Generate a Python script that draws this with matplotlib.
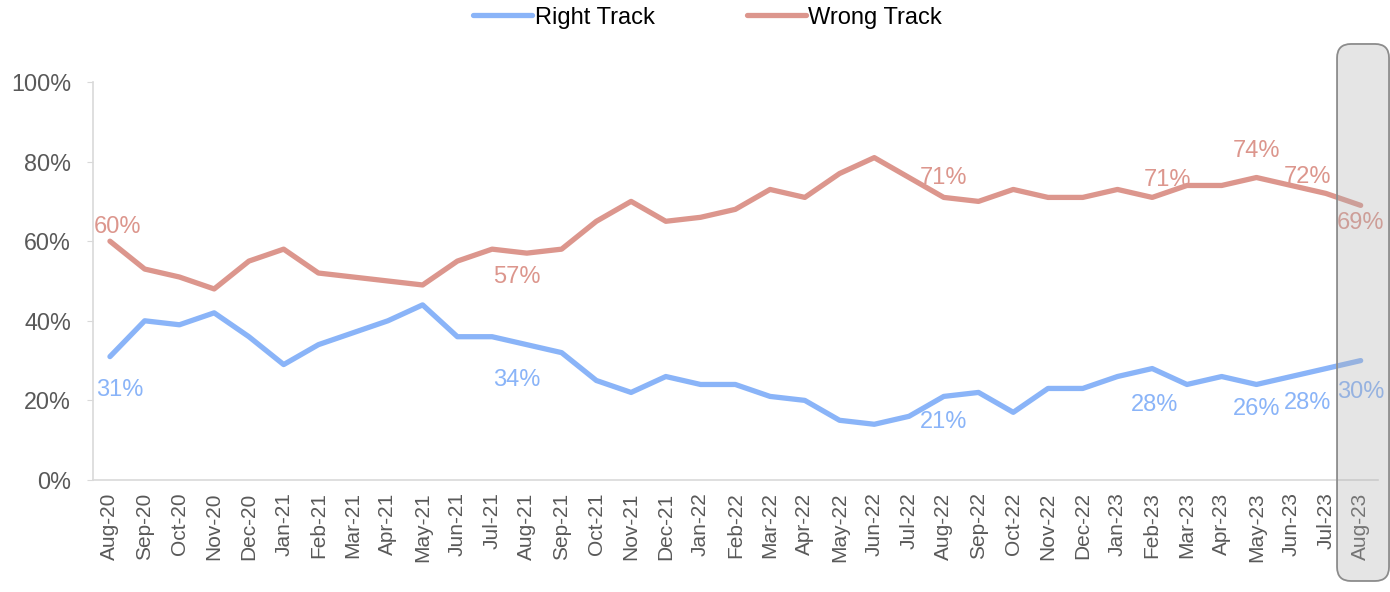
import matplotlib
matplotlib.use("Agg")
import matplotlib.pyplot as plt
from matplotlib.patches import FancyBboxPatch
import numpy as np

plt.rcParams['font.family'] = ['Liberation Sans', 'DejaVu Sans']

# data
months = ['Aug-20', 'Sep-20', 'Oct-20', 'Nov-20', 'Dec-20', 'Jan-21', 'Feb-21', 'Mar-21',
          'Apr-21', 'May-21', 'Jun-21', 'Jul-21', 'Aug-21', 'Sep-21', 'Oct-21', 'Nov-21',
          'Dec-21', 'Jan-22', 'Feb-22', 'Mar-22', 'Apr-22', 'May-22', 'Jun-22', 'Jul-22',
          'Aug-22', 'Sep-22', 'Oct-22', 'Nov-22', 'Dec-22', 'Jan-23', 'Feb-23', 'Mar-23',
          'Apr-23', 'May-23', 'Jun-23', 'Jul-23', 'Aug-23']
right_track = [31, 40, 39, 42, 36, 29, 34, 37, 40, 44, 36, 36, 34, 32, 25, 22, 26, 24, 24,
               21, 20, 15, 14, 16, 21, 22, 17, 23, 23, 26, 28, 24, 26, 24, 26, 28, 30]
wrong_track = [60, 53, 51, 48, 55, 58, 52, 51, 50, 49, 55, 58, 57, 58, 65, 70, 65, 66, 68,
               73, 71, 77, 81, 76, 71, 70, 73, 71, 71, 73, 71, 74, 74, 76, 74, 72, 69]

# data labels: (month index, text)
right_labels = [(0, '31%'), (12, '34%'), (24, '21%'), (30, '28%'), (33, '26%'), (35, '28%'), (36, '30%')]
wrong_labels = [(0, '60%'), (12, '57%'), (24, '71%'), (30, '71%'), (33, '74%'), (35, '72%'), (36, '69%')]

# label offsets in pixels (dx, dy of baseline)
right_offs = [(10, -39), (-10, -41), (0, -32), (2, -42), (0, -31), (-18, -40), (0, -37)]
wrong_offs = [(8, 8), (-10, -30), (0, 13), (15, 11), (0, 21), (-18, 10), (0, -24)]

c_right = '#8ab4f8'
c_wrong = '#dc968d'
grey_txt = '#595959'

fig = plt.figure(figsize=(13.9, 5.92), dpi=100)
ax = fig.add_axes([0.0666, 0.1892, 0.9248, 0.6723])

x = np.arange(len(months))
ax.plot(x, np.array(right_track) / 100., color=c_right, lw=3.8, label='Right Track', solid_capstyle='round')
ax.plot(x, np.array(wrong_track) / 100., color=c_wrong, lw=3.8, label='Wrong Track', solid_capstyle='round')

for (i, t), (dx, dy) in zip(right_labels, right_offs):
    ax.annotate(t, (i, right_track[i] / 100.), xytext=(dx, dy), textcoords='offset pixels',
                ha='center', va='baseline', color=c_right, fontsize=17)
for (i, t), (dx, dy) in zip(wrong_labels, wrong_offs):
    ax.annotate(t, (i, wrong_track[i] / 100.), xytext=(dx, dy), textcoords='offset pixels',
                ha='center', va='baseline', color=c_wrong, fontsize=17)

ax.set_xlim(-0.5, len(months) - 0.5)
ax.set_ylim(0, 1.0)
ax.set_yticks(np.arange(0, 1.01, 0.2))
ax.set_yticklabels(['%d%%' % v for v in range(0, 101, 20)])
ax.set_xticks(x)
ax.set_xticklabels(months, rotation=90)

for s in ['top', 'right']:
    ax.spines[s].set_visible(False)
for s in ['left', 'bottom']:
    ax.spines[s].set_color('#d9d9d9')
    ax.spines[s].set_linewidth(1.2)
ax.tick_params(axis='y', colors='#d9d9d9', labelcolor=grey_txt, labelsize=16.8, length=4.5, pad=11)
ax.tick_params(axis='x', length=0, labelcolor=grey_txt, labelsize=15, pad=9)

fig.legend(loc='center', bbox_to_anchor=(0.509, 0.97), ncol=2, frameon=False, fontsize=17,
           handlelength=2.5, handletextpad=0.1, columnspacing=3.9)

# highlight box on the latest month
box = FancyBboxPatch((0.9619, 0.0186), 0.0374, 0.9071, transform=fig.transFigure,
                     boxstyle='round,pad=0,rounding_size=0.01',
                     facecolor=(0.69, 0.69, 0.69, 0.32), edgecolor='#8c8c8c', lw=1.3,
                     zorder=10, mutation_aspect=2.35)
fig.add_artist(box)

fig.savefig('out.png', dpi=100)
